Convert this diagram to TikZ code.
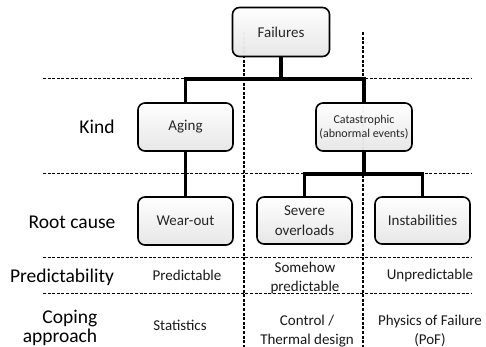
\documentclass[tikz,border=0pt]{standalone}
\usepackage{fontspec}
\setmainfont{Carlito}
\usetikzlibrary{positioning}

\tikzset{
  failbox/.style={rectangle, rounded corners=7pt, draw=black, line width=1.6pt,
                  top color=white, bottom color=black!10, fill opacity=0.97,
                  text opacity=1, text=black!85, align=center,
                  font=\fontsize{15}{18}\selectfont},
  rowlabel/.style={font=\fontsize{19.5}{21}\selectfont, align=center},
  celltext/.style={font=\fontsize{15}{18.5}\selectfont, align=center, text=black!90},
  gridline/.style={dash pattern=on 3pt off 1.6pt, line width=1pt},
  colline/.style={dash pattern=on 3pt off 1.6pt, line width=1.4pt},
  conn/.style={line width=3.5pt, line cap=rect}
}

\begin{document}
\begin{tikzpicture}[x=1pt,y=-1pt]

    \useasboundingbox (0,0) rectangle (486,347);

    % grid behind the tree
    \foreach \yy in {79,174,257,293}
        \draw[gridline] (43,\yy) -- (472,\yy);
    \foreach \xx in {244,363}
        \draw[colline] (\xx,32) -- (\xx,347);

    \coordinate (kbar) at (0,79);
    \coordinate (rbar) at (0,174);

    % tree
    \node[failbox,
          minimum width = 97pt,
          minimum height = 49pt
          ] (fail) at (281,32) {Failures};

    \node[failbox,
          minimum width = 95pt,
          minimum height = 48pt
          ] (aging) at (185.5,127) {Aging};

    \node[failbox,
          minimum width = 96pt,
          minimum height = 48pt,
          font = \fontsize{12}{14.5}\selectfont
          ] (cata) at (364,127) {Catastrophic\\(abnormal events)};

    \node[failbox,
          minimum width = 95pt,
          minimum height = 48pt
          ] (wear) at (185.5,221) {Wear-out};

    \node[failbox,
          minimum width = 95pt,
          minimum height = 47pt,
          font = \fontsize{15}{19.5}\selectfont
          ] (sev) at (304.5,220.5) {Severe\\overloads};

    \node[failbox,
          minimum width = 95pt,
          minimum height = 47pt
          ] (inst) at (422.5,220.5) {Instabilities};

    % row labels
    \node[rowlabel] (kind) at (97,127) {Kind};
    \node[rowlabel] (root) at (72,222) {Root cause};
    \node[rowlabel] (pred) at (62,277) {Predictability};
    \node[rowlabel, align=right, font=\fontsize{19.5}{19.5}\selectfont,
          inner ysep=1pt] (cope) at (60,328) {Coping\\approach};

    % cells
    \node[celltext] (predy) at (187,275) {Predictable};
    \node[celltext] (predsome) at (305,278) {Somehow\\predictable};
    \node[celltext] (predun) at (430,275) {Unpredictable};
    \node[celltext] (stat) at (180,325) {Statistics};
    \node[celltext] (ctrl) at (307,331) {Control /\\Thermal design};
    \node[celltext] (pof) at (430,331) {Physics of Failure\\(PoF)};

    % connectors
    \draw[conn] (fail.south) -- (fail.south |- kbar);
    \draw[conn] (aging.north) |- (cata.north |- kbar) -- (cata.north);
    \draw[conn] (aging.south) -- (wear.north);
    \draw[conn] (cata.south) -- (cata.south |- rbar);
    \draw[conn] (sev.north) |- (inst.north |- rbar) -- (inst.north);

\end{tikzpicture}
\end{document}
